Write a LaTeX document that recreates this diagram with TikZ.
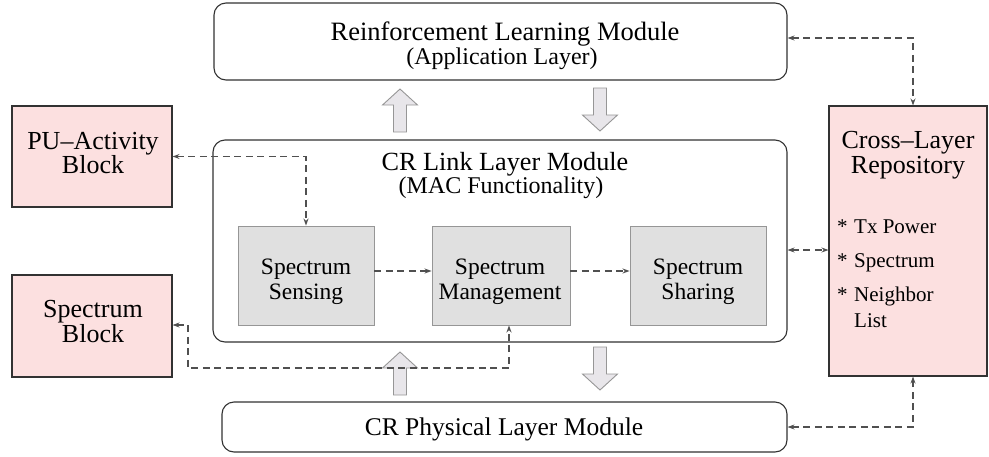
\documentclass[tikz,border=0pt]{standalone}
\usepackage{fontspec}
\setmainfont{Liberation Serif}
\usetikzlibrary{arrows.meta}
\definecolor{pinkfill}{RGB}{252,224,224}
\definecolor{grayfill}{RGB}{224,224,224}
\definecolor{grayedge}{RGB}{150,150,150}
\definecolor{hollowfill}{RGB}{232,230,234}
\definecolor{boxedge}{RGB}{50,50,50}
\definecolor{dashcol}{RGB}{80,80,80}
\begin{document}
\begin{tikzpicture}[x=1pt,y=-1pt,
  module/.style={draw=boxedge,line width=1.1pt,rounded corners=12pt,inner sep=0pt,fill=white},
  pinkbox/.style={draw=boxedge,line width=1.1pt,fill=pinkfill,inner sep=0pt},
  graybox/.style={draw=grayedge,line width=0.9pt,fill=grayfill,inner sep=0pt,minimum width=136pt,minimum height=99pt},
  txt/.style={anchor=base,inner sep=0pt},
  hollow/.style={draw=grayedge,line width=0.9pt,fill=hollowfill,line join=miter},
  dline/.style={draw=dashcol,line width=1.1pt,dash pattern=on 7pt off 4.5pt},
  dlink/.style={dline,{Stealth[length=7pt,width=5pt,fill=black]}-{Stealth[length=7pt,width=5pt,fill=black]}},
  uparrow/.pic={\draw[hollow] (0,0) -- (17.5,16) -- (6.5,16) -- (6.5,43) -- (-6.5,43) -- (-6.5,16) -- (-17.5,16) -- cycle;}
]
\useasboundingbox (0,0) rectangle (989,456);

% modules
\node[module,minimum width=573pt,minimum height=77pt] (rl) at (500.5,41.5) {};
\node[module,minimum width=574pt,minimum height=202pt] (link) at (500,241) {};
\node[module,minimum width=565pt,minimum height=50pt] (phys) at (504.5,427) {};

\node[txt,font=\fontsize{26.5}{26.5}\selectfont] (rlt) at (505,40) {Reinforcement Learning Module};
\node[txt,font=\fontsize{24}{24}\selectfont] (rls) at (502,64) {(Application Layer)};
\node[txt,font=\fontsize{26.2}{26.2}\selectfont] (lkt) at (505,170) {CR Link Layer Module};
\node[txt,font=\fontsize{24}{24}\selectfont] (lks) at (501,193) {(MAC Functionality)};
\node[txt,font=\fontsize{25.5}{25.5}\selectfont] (pht) at (504,435) {CR Physical Layer Module};

% side blocks
\node[pinkbox,minimum width=160pt,minimum height=101pt] (pu) at (92,156.5) {};
\node[txt,font=\fontsize{26}{26}\selectfont] (put1) at (93,149) {PU--Activity};
\node[txt,font=\fontsize{26}{26}\selectfont] (put2) at (93,173) {Block};
\node[pinkbox,minimum width=160pt,minimum height=102pt] (sb) at (92,326) {};
\node[txt,font=\fontsize{26}{26}\selectfont] (sbt1) at (93,317) {Spectrum};
\node[txt,font=\fontsize{26}{26}\selectfont] (sbt2) at (93,342) {Block};

\node[pinkbox,minimum width=158pt,minimum height=270pt] (repo) at (908,241) {};
\node[txt,font=\fontsize{26}{26}\selectfont] (rp1) at (908,148) {Cross--Layer};
\node[txt,font=\fontsize{26}{26}\selectfont] (rp2) at (908,173) {Repository};
\begin{scope}[every node/.style={anchor=base west,inner sep=0pt,font=\fontsize{21}{21}\selectfont}]
\node (st1) at (837,233) {*};
\node (it1) at (854,233) {Tx Power};
\node (st2) at (837,267) {*};
\node (it2) at (854,267) {Spectrum};
\node (st3) at (837,301) {*};
\node (it3) at (854,301) {Neighbor};
\node (it4) at (854,327) {List};
\end{scope}

% inner boxes
\node[graybox] (sens) at (306,275.5) {};
\node[graybox,minimum width=138pt] (mgmt) at (501,275.5) {};
\node[graybox] (share) at (698,275.5) {};
\foreach \n/\x/\a/\b in {sens/306/Spectrum/Sensing, mgmt/500/Spectrum/Management, share/698/Spectrum/Sharing}{
  \node[txt,font=\fontsize{23.5}{23.5}\selectfont] (\n a) at (\x,274) {\a};
  \node[txt,font=\fontsize{23.5}{23.5}\selectfont] (\n b) at (\x,299) {\b};
}

% hollow arrows
\pic at (400,89) {uparrow};
\pic[yscale=-1] at (600,131) {uparrow};
\pic at (400,352) {uparrow};
\pic[yscale=-1] at (600,390) {uparrow};

% dashed connectors
\coordinate (sensc) at (sens.east |- 0,271);
\coordinate (mgmtw) at (mgmt.west |- 0,271);
\coordinate (mgmte) at (mgmt.east |- 0,271);
\coordinate (sharew) at (share.west |- 0,271);
\draw[dline,-{Stealth[length=7pt,width=5pt,fill=black]}] (sensc) -- (mgmtw);
\draw[dline,-{Stealth[length=7pt,width=5pt,fill=black]}] (mgmte) -- (sharew);

\draw[dlink] (pu.east) -| (sens.north);

\coordinate (mgb) at ([xshift=8pt]mgmt.south);
\coordinate (sbe) at (sb.east |- 0,325);
\coordinate (k1) at (188,325);
\coordinate (k2) at (188,368);
\draw[dlink] (sbe) -- (k1) -- (k2) -| (mgb);

\coordinate (rle) at (rl.east |- 0,38);
\coordinate (repn) at ([xshift=5pt]repo.north);
\draw[dlink] (rle) -| (repn);

\coordinate (lke) at (link.east |- 0,250);
\coordinate (rpw) at (repo.west |- 0,250);
\draw[dlink] (lke) -- (rpw);

\coordinate (rps) at ([xshift=5pt]repo.south);
\draw[dlink] (phys.east) -| (rps);
\end{tikzpicture}
\end{document}
